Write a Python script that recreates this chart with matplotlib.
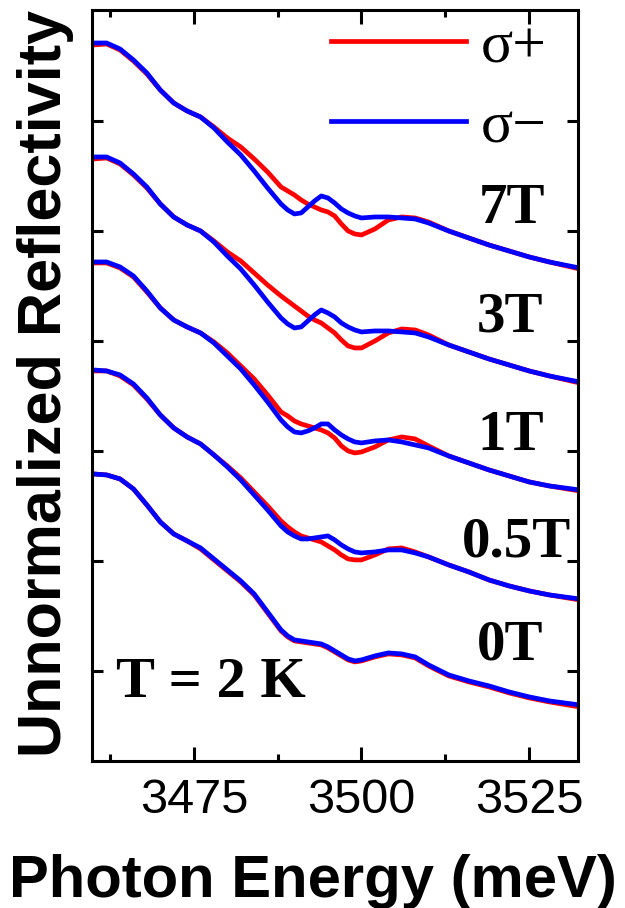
import matplotlib
matplotlib.use("Agg")
import matplotlib.pyplot as plt
from matplotlib.ticker import MultipleLocator, NullFormatter

# photon energy grid (meV)
energy = [3460, 3462, 3464, 3466, 3468, 3470, 3472, 3474, 3476, 3478,
          3480, 3482, 3484, 3486, 3488, 3489, 3490, 3491, 3492, 3493,
          3494, 3495, 3496, 3497, 3498, 3499, 3500, 3502, 3504, 3506,
          3508, 3510, 3513, 3516, 3519, 3522, 3525, 3528, 3532.5]

# reflectivity traces, arb. units, already stacked with offsets
r7_plus = [626, 627, 621, 610, 597, 581, 568, 560, 554, 544, 533, 524, 512, 499, 484, 480, 476, 471, 467, 464,
           461, 459, 455, 447, 440, 437, 436, 442, 451, 454, 453, 449, 440, 433, 426, 420, 414, 409, 402]
r7_minus = [628, 628, 622, 611, 598, 581, 568, 560, 554, 543, 529, 516, 500, 483, 467, 461, 457, 458, 464, 470,
            475, 473, 468, 462, 458, 455, 453, 454, 454, 453, 452, 448, 440, 433, 426, 420, 414, 409, 403]

r3_plus = [512, 513, 507, 496, 483, 467, 454, 446, 440, 430, 419, 410, 398, 386, 375, 370, 365, 360, 355, 351,
           348, 343, 338, 331, 325, 323, 323, 330, 338, 342, 341, 336, 326, 319, 312, 306, 300, 295, 288]
r3_minus = [514, 514, 508, 497, 484, 467, 454, 446, 440, 429, 415, 402, 386, 369, 353, 347, 343, 344, 350, 356,
            361, 358, 354, 348, 344, 341, 339, 340, 340, 339, 338, 334, 326, 319, 312, 306, 300, 295, 289]

r1_plus = [408, 408, 403, 394, 379, 363, 351, 344, 338, 329, 318, 305, 292, 276, 259, 255, 250, 247, 245, 243,
           241, 238, 233, 225, 220, 218, 219, 224, 231, 234, 232, 225, 215, 208, 201, 195, 189, 185, 180]
r1_minus = [409, 409, 404, 395, 380, 363, 351, 344, 338, 328, 315, 302, 286, 269, 251, 244, 239, 238, 240, 243,
            247, 247, 241, 236, 232, 229, 228, 230, 231, 229, 226, 223, 215, 208, 201, 195, 189, 185, 181]

r05_plus = [300, 300, 295, 286, 272, 256, 243, 234, 227, 216, 205, 193, 179, 165, 150, 144, 139, 135, 133, 131,
            129, 125, 121, 116, 112, 111, 111, 116, 122, 123, 119, 114, 106, 99, 91, 85, 80, 76, 71]
r05_minus = [301, 300, 296, 287, 273, 256, 243, 234, 227, 216, 204, 191, 176, 161, 145, 139, 135, 132, 132, 133,
             134, 135, 131, 126, 122, 119, 118, 119, 121, 121, 118, 114, 106, 99, 91, 85, 80, 76, 72]

r0_plus = [197, 196, 192, 182, 166, 149, 137, 130, 122, 111, 100, 89, 76, 58, 40, 34, 30, 29, 28, 27,
           26, 23, 19, 15, 11, 9, 10, 14, 17, 16, 13, 5, -5, -11, -16, -22, -27, -31, -36]
r0_minus = [197, 196, 192, 182, 166, 149, 137, 130, 123, 112, 101, 90, 77, 59, 41, 35, 31, 30, 29, 28,
            27, 24, 20, 16, 12, 10, 11, 15, 18, 17, 14, 6, -4, -10, -15, -21, -26, -30, -34]

fields = ["7T", "3T", "1T", "0.5T", "0T"]
sigma_plus = [r7_plus, r3_plus, r1_plus, r05_plus, r0_plus]
sigma_minus = [r7_minus, r3_minus, r1_minus, r05_minus, r0_minus]

# where each field label sits (meV, arb. units)
label_pos = [(3522.5, 462), (3522.2, 353), (3522.3, 235), (3523.1, 128), (3522.2, 25)]

serif = ["Liberation Serif", "DejaVu Serif"]
sans = ["Liberation Sans", "DejaVu Sans"]

fig = plt.figure(figsize=(6.25, 9.08), dpi=100)
ax = fig.add_axes([0.147, 0.162, 0.778, 0.827])

for i, name in enumerate(fields):
    ax.plot(energy, sigma_plus[i], color="#ff0000", lw=3.4,
            label="σ+" if i == 0 else None, solid_joinstyle="round")
    ax.plot(energy, sigma_minus[i], color="#0000ff", lw=3.4,
            label="σ−" if i == 0 else None, solid_joinstyle="round")
    x, y = label_pos[i]
    ax.text(x, y, name, ha="center", va="center", fontsize=41,
            fontweight="bold", family=serif)

ax.text(3477.5, -12, "T = 2 K", ha="center", va="center", fontsize=42,
        fontweight="bold", family=serif)

leg = ax.legend(loc="upper right", bbox_to_anchor=(0.935, 0.986),
                frameon=False, borderaxespad=0, borderpad=0,
                handlelength=2.25, handletextpad=0.25, labelspacing=0.42,
                prop={"family": serif, "size": 43})
for h in leg.get_lines():
    h.set_linewidth(3.4)

ax.set_xlim(3459.8, 3532.3)
ax.set_ylim(-90, 661)
ax.xaxis.set_major_locator(MultipleLocator(25))
ax.xaxis.set_minor_locator(MultipleLocator(12.5))
ax.set_yticks([0, 110, 220, 330, 440, 550])
ax.yaxis.set_major_formatter(NullFormatter())

for sp in ax.spines.values():
    sp.set_linewidth(2.2)
ax.tick_params(axis="both", which="both", direction="in", top=True, right=True, width=2.2)
ax.tick_params(axis="x", which="major", length=10, pad=12, labelsize=35)
ax.tick_params(axis="x", which="minor", length=5)
ax.tick_params(axis="y", which="major", length=8)
for lab in ax.get_xticklabels():
    lab.set_family(sans)

fig.text(0.5, 0.029, "Photon Energy (meV)", ha="center", va="center",
         fontsize=43, fontweight="bold", family=sans)
fig.text(0.073, 0.578, "Unnormalized Reflectivity", ha="center", va="center",
         rotation=90, fontsize=44, fontweight="bold", family=sans)

fig.savefig("out.png", dpi=100)
